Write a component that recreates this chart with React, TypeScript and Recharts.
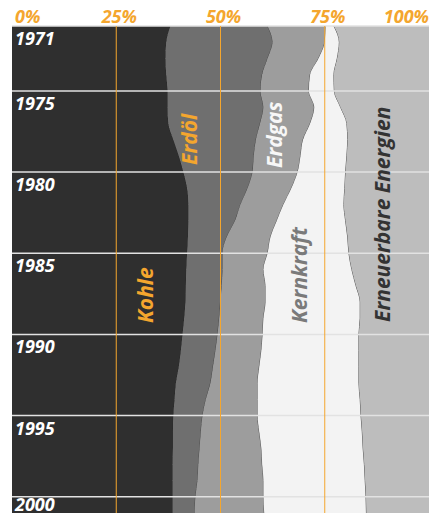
import { AreaChart, Area, XAxis, YAxis, ReferenceLine } from 'recharts';

// Anteile am Primärenergieverbrauch in %, von links nach rechts gestapelt
const years = [
  1971, 1972, 1973, 1974, 1975, 1976, 1977, 1978, 1979, 1980,
  1981, 1982, 1983, 1984, 1985, 1986, 1987, 1988, 1989, 1990,
  1991, 1992, 1993, 1994, 1995, 1996, 1997, 1998, 1999, 2000, 2001,
];
const kohle = [
  38, 37, 36.8, 37, 37.3, 37.3, 37.5, 38.7, 40, 41.1,
  42, 42.3, 42.3, 42.2, 42, 41.8, 41.7, 41.6, 41.3, 40.9,
  40.5, 40, 39.3, 39, 38.7, 38.6, 38.6, 38.5, 38.5, 38.5, 38.5,
];
const erdoel = [
  23.3, 25.5, 24.5, 23, 22.3, 23, 22, 19.8, 18, 16.6,
  14.5, 12.5, 11.2, 9.3, 8.5, 8.7, 8.6, 8.4, 8.4, 8.4,
  8.3, 8.2, 8.3, 7.5, 7, 6.7, 6.4, 6.2, 6, 5.5, 5.3,
];
const erdgas = [
  13.9, 12.5, 12.2, 11.5, 11.6, 12.2, 12, 11.3, 11.2, 10.8,
  10.5, 10.3, 10, 10.5, 10.8, 9.8, 10.5, 10.8, 10.6, 10.8,
  11, 11.1, 11.3, 12.4, 13.2, 14, 14.8, 15.3, 15.8, 16.3, 16.7,
];
const kernkraft = [
  2, 3.5, 4.5, 5.7, 6.1, 6.3, 8.8, 10.7, 11.1, 11.5,
  12.8, 14.5, 16.5, 18.5, 19.5, 21.2, 21.7, 22.7, 23.2, 23.1,
  23.4, 23.9, 24.3, 24.6, 24.8, 24.7, 24.4, 24.5, 24.4, 24.6, 24.5,
];
const erneuerbare = [
  22.8, 21.5, 22, 22.8, 22.7, 21.2, 19.7, 19.5, 19.7, 20,
  20.2, 20.4, 20, 19.5, 19.2, 18.5, 17.5, 16.5, 16.5, 16.8,
  16.8, 16.8, 16.8, 16.5, 16.3, 16, 15.8, 15.5, 15.3, 15.1, 15,
];

const percentTicks = [0, 25, 50, 75, 100];
const yearTicks = [1971, 1975, 1980, 1985, 1990, 1995, 2000];
const orangeLines = [25, 50, 75];

const data = years.map((year, i) => ({
  year,
  Kohle: kohle[i],
  'Erdöl': erdoel[i],
  Erdgas: erdgas[i],
  Kernkraft: kernkraft[i],
  Erneuerbare: erneuerbare[i],
}));

const ORANGE = '#f4a62e';
const FONT = '"Open Sans", sans-serif';

const PercentTick = (props: any) => {
  const { x, y, payload } = props;
  const v = payload.value;
  const anchor = v === 0 ? 'start' : v === 100 ? 'end' : 'middle';
  const dx = v === 0 ? 3 : v === 100 ? 0 : 3;
  return (
    <text x={x + dx} y={y + 5} textAnchor={anchor} fill={ORANGE}
      fontFamily={FONT} fontSize={18} fontWeight={700} fontStyle="italic">
      {v}%
    </text>
  );
};

// Jahreszahl unter der weißen Linie (unten nicht über den Rand hinaus)
const yearLabel = (year: number) => (props: any) => {
  const vb = props.viewBox || {};
  return (
    <text x={15} y={Math.min(vb.y + 19, 511)} textAnchor="start" fill="#fff"
      fontFamily={FONT} fontSize={18} fontWeight={700} fontStyle="italic">
      {year}
    </text>
  );
};

// gedrehte Beschriftungen der Flächen
const labels = [
  { text: 'Kohle', x: 153, y: 323, color: ORANGE },
  { text: 'Erdöl', x: 197, y: 165, color: ORANGE },
  { text: 'Erdgas', x: 282, y: 168, color: '#f7f7f7' },
  { text: 'Kernkraft', x: 307, y: 323, color: '#7a7a7a' },
  { text: 'Erneuerbare Energien', x: 390, y: 322, color: '#333' },
];

export default function App() {
  return (
    <div style={{ position: 'absolute', left: 0, top: 0, width: 443, height: 515, background: '#fff' }}>
      <AreaChart
        width={443}
        height={515}
        data={data}
        layout="vertical"
        margin={{ top: 0, right: 14, left: 12, bottom: 2 }}
      >
        <XAxis
          type="number"
          orientation="top"
          domain={[0, 100]}
          ticks={percentTicks}
          height={26}
          axisLine={false}
          tickLine={false}
          tick={<PercentTick />}
          interval={0}
        />
        <YAxis
          type="number"
          dataKey="year"
          domain={[1971, 2001]}
          hide
        />
        <Area type="monotone" dataKey="Kohle" stackId="a" fill="#2f2f2f" fillOpacity={1}
          stroke="#2a2a2a" strokeWidth={1} isAnimationActive={false} />
        <Area type="monotone" dataKey="Erdöl" stackId="a" fill="#6f6f6f" fillOpacity={1}
          stroke="#4a4a4a" strokeWidth={1} isAnimationActive={false} />
        <Area type="monotone" dataKey="Erdgas" stackId="a" fill="#9d9d9d" fillOpacity={1}
          stroke="#555" strokeWidth={1} isAnimationActive={false} />
        <Area type="monotone" dataKey="Kernkraft" stackId="a" fill="#f3f3f3" fillOpacity={1}
          stroke="#555" strokeWidth={1} isAnimationActive={false} />
        <Area type="monotone" dataKey="Erneuerbare" stackId="a" fill="#bdbdbd" fillOpacity={1}
          stroke="none" isAnimationActive={false} />
        {yearTicks.map(t => (
          <ReferenceLine key={t} y={t} stroke="#e2e2e2" strokeWidth={1.5} label={yearLabel(t)} />
        ))}
        {orangeLines.map(v => (
          <ReferenceLine key={v} x={v} stroke={ORANGE} strokeWidth={1} />
        ))}
      </AreaChart>
      <svg width={443} height={515} style={{ position: 'absolute', left: 0, top: 0, pointerEvents: 'none' }}>
        {labels.map(l => (
          <text key={l.text} x={l.x} y={l.y} transform={`rotate(-90 ${l.x} ${l.y})`}
            fill={l.color} fontFamily={FONT} fontSize={21} fontWeight={700} fontStyle="italic">
            {l.text}
          </text>
        ))}
      </svg>
    </div>
  );
}
